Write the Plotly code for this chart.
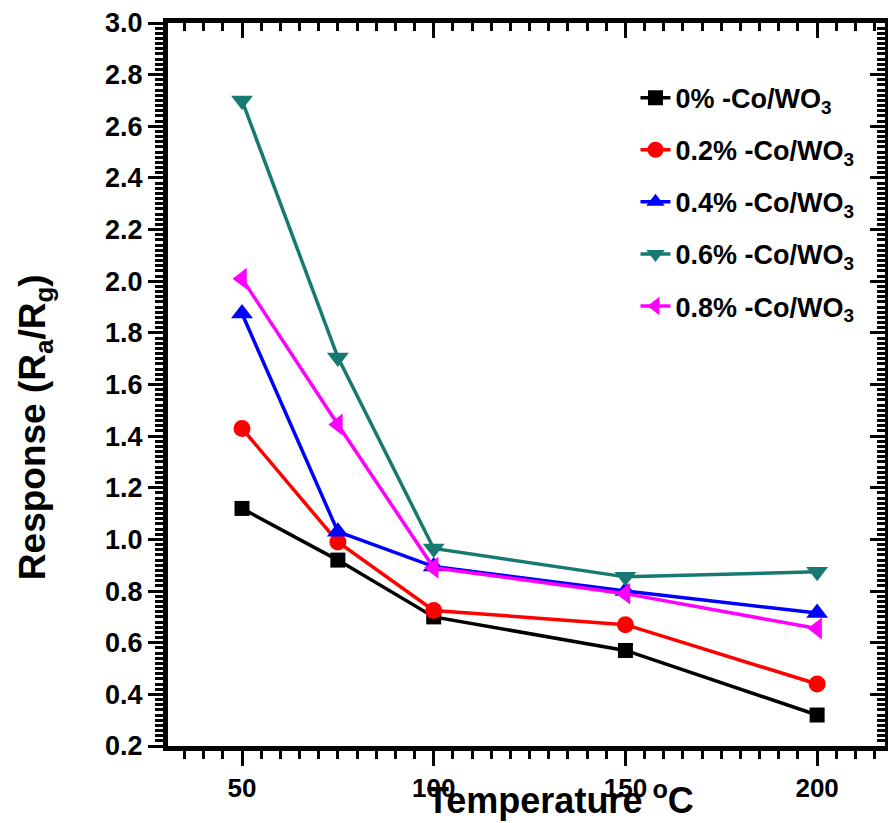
import plotly.graph_objects as go

temperature = [50, 75, 100, 150, 200]
resp_0 = [1.12, 0.92, 0.70, 0.57, 0.32]
resp_02 = [1.43, 0.99, 0.725, 0.67, 0.44]
resp_04 = [1.875, 1.03, 0.895, 0.80, 0.715]
resp_06 = [2.70, 1.705, 0.965, 0.855, 0.875]
resp_08 = [2.01, 1.445, 0.89, 0.79, 0.655]

series_names = ["0% -Co/WO<sub>3</sub>", "0.2% -Co/WO<sub>3</sub>", "0.4% -Co/WO<sub>3</sub>",
                "0.6% -Co/WO<sub>3</sub>", "0.8% -Co/WO<sub>3</sub>"]
series_values = [resp_0, resp_02, resp_04, resp_06, resp_08]
colors = ["#000000", "#ff0000", "#0000ff", "#177a72", "#ff00ff"]
symbols = ["square", "circle", "triangle-up", "triangle-down", "triangle-left"]
sizes = [15, 17, 19, 19, 19]

x_range = [30.7, 217.7]
y_range = [0.2, 3.0]
x_major = [50, 100, 150, 200]

FONT = "Liberation Sans, Arial, sans-serif"

fig = go.Figure()
for i, (name, vals) in enumerate(zip(series_names, series_values)):
    fig.add_trace(go.Scatter(
        x=temperature, y=vals, name=name, mode="lines+markers",
        line=dict(color=colors[i], width=3.5),
        marker=dict(symbol=symbols[i], size=sizes[i], color=colors[i]),
        legendgroup=f"g{i}",
    ))

# invisible trace so that the top / right frame axes are drawn
fig.add_trace(go.Scatter(x=temperature, y=resp_0, xaxis="x2", yaxis="y2", mode="lines",
                         opacity=0, showlegend=False, hoverinfo="skip"))

axis_common = dict(showline=True, linecolor="black", linewidth=5, showgrid=False,
                   zeroline=False, tickcolor="black", tickwidth=3, ticklen=15)
x_minor_out = dict(dtick=5, tick0=0, ticks="outside", ticklen=8, tickwidth=2.5, tickcolor="black")
x_minor_in = dict(dtick=5, tick0=0, ticks="inside", ticklen=8, tickwidth=2.5, tickcolor="black")
y_minor_out = dict(dtick=0.02, tick0=0.2, ticks="outside", ticklen=8, tickwidth=2.5, tickcolor="black")
y_minor_in = dict(dtick=0.02, tick0=0.2, ticks="inside", ticklen=8, tickwidth=2.5, tickcolor="black")

fig.update_layout(
    width=888, height=823,
    margin=dict(l=168, r=3, t=23, b=77),
    plot_bgcolor="white", paper_bgcolor="white",
    font=dict(family=FONT, color="black"),
    showlegend=True,
    legend=dict(x=0.652, y=0.93, xanchor="left", yanchor="top",
                font=dict(family=FONT, size=27, color="black", weight="bold"),
                tracegroupgap=14, bgcolor="rgba(0,0,0,0)"),
    xaxis=dict(range=x_range, tickvals=x_major, ticks="outside",
               tickfont=dict(family=FONT, size=26, weight="bold"),
               minor=x_minor_out, **axis_common),
    yaxis=dict(range=y_range, dtick=0.2, tick0=0.2, ticks="outside", tickformat=".1f",
               tickfont=dict(family=FONT, size=27, weight="bold"),
               minor=y_minor_out, **axis_common),
    xaxis2=dict(range=x_range, overlaying="x", side="top", anchor="y", tickvals=x_major,
                ticks="inside", showticklabels=False, minor=x_minor_in, **axis_common),
    yaxis2=dict(range=y_range, overlaying="y", side="right", anchor="x", dtick=0.2, tick0=0.2,
                ticks="inside", showticklabels=False, minor=y_minor_in, **axis_common),
    annotations=[
        dict(text="Temperature <sup>o</sup>C", xref="paper", yref="paper", x=0.547, y=0,
             xanchor="center", yanchor="middle", yshift=-52, showarrow=False,
             font=dict(family=FONT, size=36, weight="bold", color="black")),
        dict(text="Response (R<sub>a</sub>/R<sub>g</sub>)", xref="paper", yref="paper", x=0, y=0.441,
             xanchor="center", yanchor="middle", xshift=-133, textangle=-90, showarrow=False,
             font=dict(family=FONT, size=37, weight="bold", color="black")),
    ],
)

fig.write_html("out.html")
